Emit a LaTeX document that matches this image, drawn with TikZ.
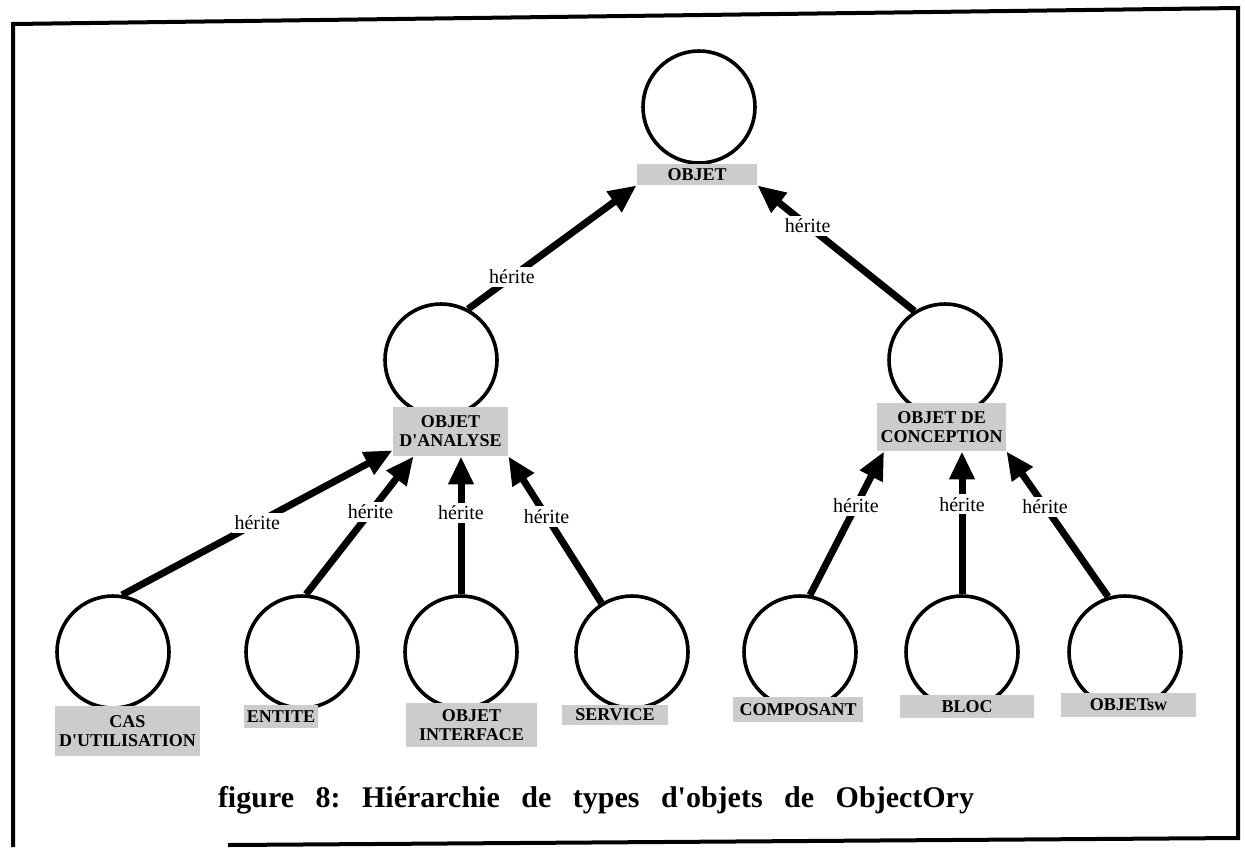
\documentclass[tikz,border=0pt]{standalone}
\usepackage{fontspec}
\setmainfont{Liberation Serif}
\usetikzlibrary{arrows.meta}

\tikzset{
  objcircle/.style={circle, draw, line width=1.8pt, minimum size=56pt, inner sep=0pt},
  typelabel/.style={fill=gray!40, inner sep=0pt, align=center,
    font=\fontsize{9}{9.5}\selectfont\bfseries},
  inherit/.style={line width=3.5pt, -{Triangle[length=14pt,width=12pt]}},
  heritelbl/.style={fill=white, inner sep=1.5pt, font=\fontsize{10}{12}\selectfont}
}
\newcommand{\apos}{\textquotesingle}

\begin{document}
\frenchspacing
\begin{tikzpicture}[x=0.5pt, y=-0.5pt]
    \useasboundingbox (0,0) rectangle (1245,847);

    % FRAME (scanned page, slightly skewed)
    \draw[line width=2pt] (13,847) -- (13,24) -- (1238,8) -- (1238,838) -- (228,845);

    % ROOT
    \node[objcircle] (obj) at (699,107) {};
    \node[typelabel, minimum width=60pt, minimum height=10.5pt] (objlbl) at (697,174.5) {OBJET};

    % SECOND LEVEL
    \node[objcircle] (ana) at (441,360) {};
    \node[typelabel, minimum width=57.5pt, minimum height=24.5pt] (analbl) at (450.5,431.5) {OBJET\\D\apos ANALYSE};
    \node[objcircle] (con) at (945,360) {};
    \node[typelabel, minimum width=64.5pt, minimum height=24pt] (conlbl) at (941.5,427) {OBJET DE\\CONCEPTION};

    % LEAVES: ANALYSIS SIDE
    \node[objcircle] (cas) at (113,652) {};
    \node[typelabel, minimum width=72.5pt, minimum height=25pt] (caslbl) at (127.5,731) {CAS\\D\apos UTILISATION};
    \node[objcircle] (ent) at (302,652) {};
    \node[typelabel, minimum width=37pt, minimum height=11.5pt] (entlbl) at (281,716.5) {ENTITE};
    \node[objcircle] (itf) at (461,652) {};
    \node[typelabel, minimum width=65.5pt, minimum height=22pt] (itflbl) at (471.5,725) {OBJET\\INTERFACE};
    \node[objcircle] (srv) at (632,652) {};
    \node[typelabel, minimum width=53pt, minimum height=10pt] (srvlbl) at (615,715) {SERVICE};

    % LEAVES: DESIGN SIDE
    \node[objcircle] (cmp) at (800,652) {};
    \node[typelabel, minimum width=65pt, minimum height=12.5pt] (cmplbl) at (798,709.5) {COMPOSANT};
    \node[objcircle] (blc) at (962,652) {};
    \node[typelabel, minimum width=67pt, minimum height=11.5pt] (blclbl) at (967,706.5) {BLOC};
    \node[objcircle] (osw) at (1125,652) {};
    \node[typelabel, minimum width=67.5pt, minimum height=12pt] (oswlbl) at (1128.5,705) {OBJETsw};

    % INHERITANCE LINKS
    \draw[inherit] (ana.62) -- node[heritelbl, pos=0.26] {hérite} (objlbl.south west);
    \draw[inherit] (con.122) -- node[heritelbl, pos=0.68] {hérite} (objlbl.south east);

    \draw[inherit] (cas.81) -- node[heritelbl, pos=0.5] {hérite} (analbl.198);
    \draw[inherit] (ent.86) -- node[heritelbl, pos=0.6] {hérite} (analbl.214);
    \draw[inherit] (itf.north) -- node[heritelbl, pos=0.59] {hérite} (itf.north |- analbl.south);
    \draw[inherit] (srv.122) -- node[heritelbl, pos=0.59] {hérite} (analbl.south east);

    \draw[inherit] (cmp.80) -- node[heritelbl, pos=0.62] {hérite} (conlbl.203);
    \draw[inherit] (blc.north) -- node[heritelbl, pos=0.63] {hérite} (blc.north |- conlbl.south);
    \draw[inherit] (osw.107) -- node[heritelbl, pos=0.62] {hérite} (conlbl.south east);

    % CAPTION
    \node[anchor=base, font=\fontsize{15}{18}\selectfont\bfseries] (caption) at (596,807)
      {\makebox[378pt][s]{figure 8: Hiérarchie de types d\apos objets de ObjectOry}};
\end{tikzpicture}
\end{document}
